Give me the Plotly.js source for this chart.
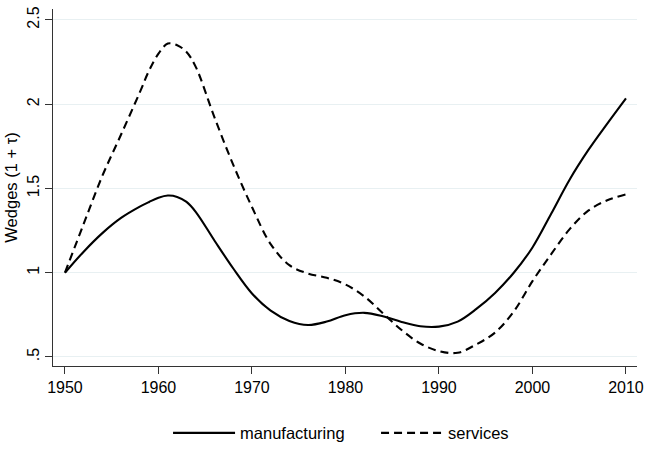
<!DOCTYPE html>
<html>
<head>
<meta charset="utf-8">
<script src="https://cdn.plot.ly/plotly-3.0.1.min.js"></script>
<style>html,body{margin:0;padding:0;background:#fff;}#chart{width:645px;height:449px;}</style>
</head>
<body>
<div id="chart"></div>
<script>
var years_mfg = [1950,1952,1954,1956,1958,1959,1960,1961,1962,1963,1964,1966,1968,1970,1972,1974,1976,1978,1980,1982,1984,1986,1988,1990,1992,1994,1996,1998,2000,2002,2004,2006,2008,2010];
var manufacturing = [1.00,1.125,1.235,1.325,1.392,1.42,1.445,1.458,1.45,1.42,1.36,1.19,1.025,0.877,0.775,0.714,0.69,0.71,0.748,0.762,0.742,0.708,0.682,0.68,0.71,0.785,0.88,1.00,1.15,1.35,1.555,1.73,1.885,2.035];
var years_srv = [1950,1952,1954,1956,1958,1959,1960,1961,1962,1963,1964,1966,1968,1970,1972,1974,1976,1978,1980,1982,1984,1986,1988,1990,1992,1994,1996,1998,2000,2002,2004,2006,2008,2010];
var services = [1.00,1.29,1.575,1.82,2.07,2.20,2.30,2.36,2.35,2.31,2.22,1.92,1.64,1.39,1.17,1.045,0.995,0.97,0.93,0.86,0.76,0.66,0.58,0.535,0.525,0.575,0.645,0.77,0.95,1.11,1.26,1.37,1.43,1.465];
var xticks = [1950,1960,1970,1980,1990,2000,2010];
var xticklabels = ['1950','1960','1970','1980','1990','2000','2010'];
var yticks = [0.5,1,1.5,2,2.5];
var yticklabels = ['.5','1','1.5','2','2.5'];

var fam = 'Liberation Sans, Arial, Helvetica, sans-serif';
var tickFont = {family: fam, size: 16, color: '#000'};
var textFont = {family: fam, size: 16.5, color: '#000'};

var traces = [
  {x: years_mfg, y: manufacturing, name: 'manufacturing', type: 'scatter', mode: 'lines',
   line: {color: '#000', width: 2.1, shape: 'spline', smoothing: 1}},
  {x: years_srv, y: services, name: 'services', type: 'scatter', mode: 'lines',
   line: {color: '#000', width: 2.1, shape: 'spline', smoothing: 1, dash: '8px,5px'}}
];

var layout = {
  width: 645, height: 449,
  margin: {l: 53, r: 8, t: 9, b: 83, autoexpand: false},
  paper_bgcolor: '#fff', plot_bgcolor: '#fff',
  font: textFont,
  showlegend: true,
  legend: {orientation: 'h', x: 0.197, xanchor: 'left', y: -0.188, yanchor: 'middle',
           itemwidth: 62, entrywidth: 131, entrywidthmode: 'pixels', font: textFont, traceorder: 'normal'},
  xaxis: {range: [1948.72, 2011.18], tickvals: xticks, ticktext: xticklabels,
          showgrid: false, zeroline: false, showline: true, linecolor: '#333', linewidth: 1,
          ticks: 'outside', ticklen: 7, tickcolor: '#333', tickfont: tickFont},
  yaxis: {range: [0.4465, 2.565], tickvals: yticks, ticktext: yticklabels,
          showgrid: true, gridcolor: '#e8f0f2', gridwidth: 1, zeroline: false,
          showline: true, linecolor: '#333', linewidth: 1,
          ticks: 'outside', ticklen: 7, tickcolor: '#333', tickfont: tickFont, tickangle: -90,
          title: {text: 'Wedges (1 + τ)', font: textFont, standoff: 2}}
};

Plotly.newPlot('chart', traces, layout, {displayModeBar: false, staticPlot: true});
</script>
</body>
</html>
